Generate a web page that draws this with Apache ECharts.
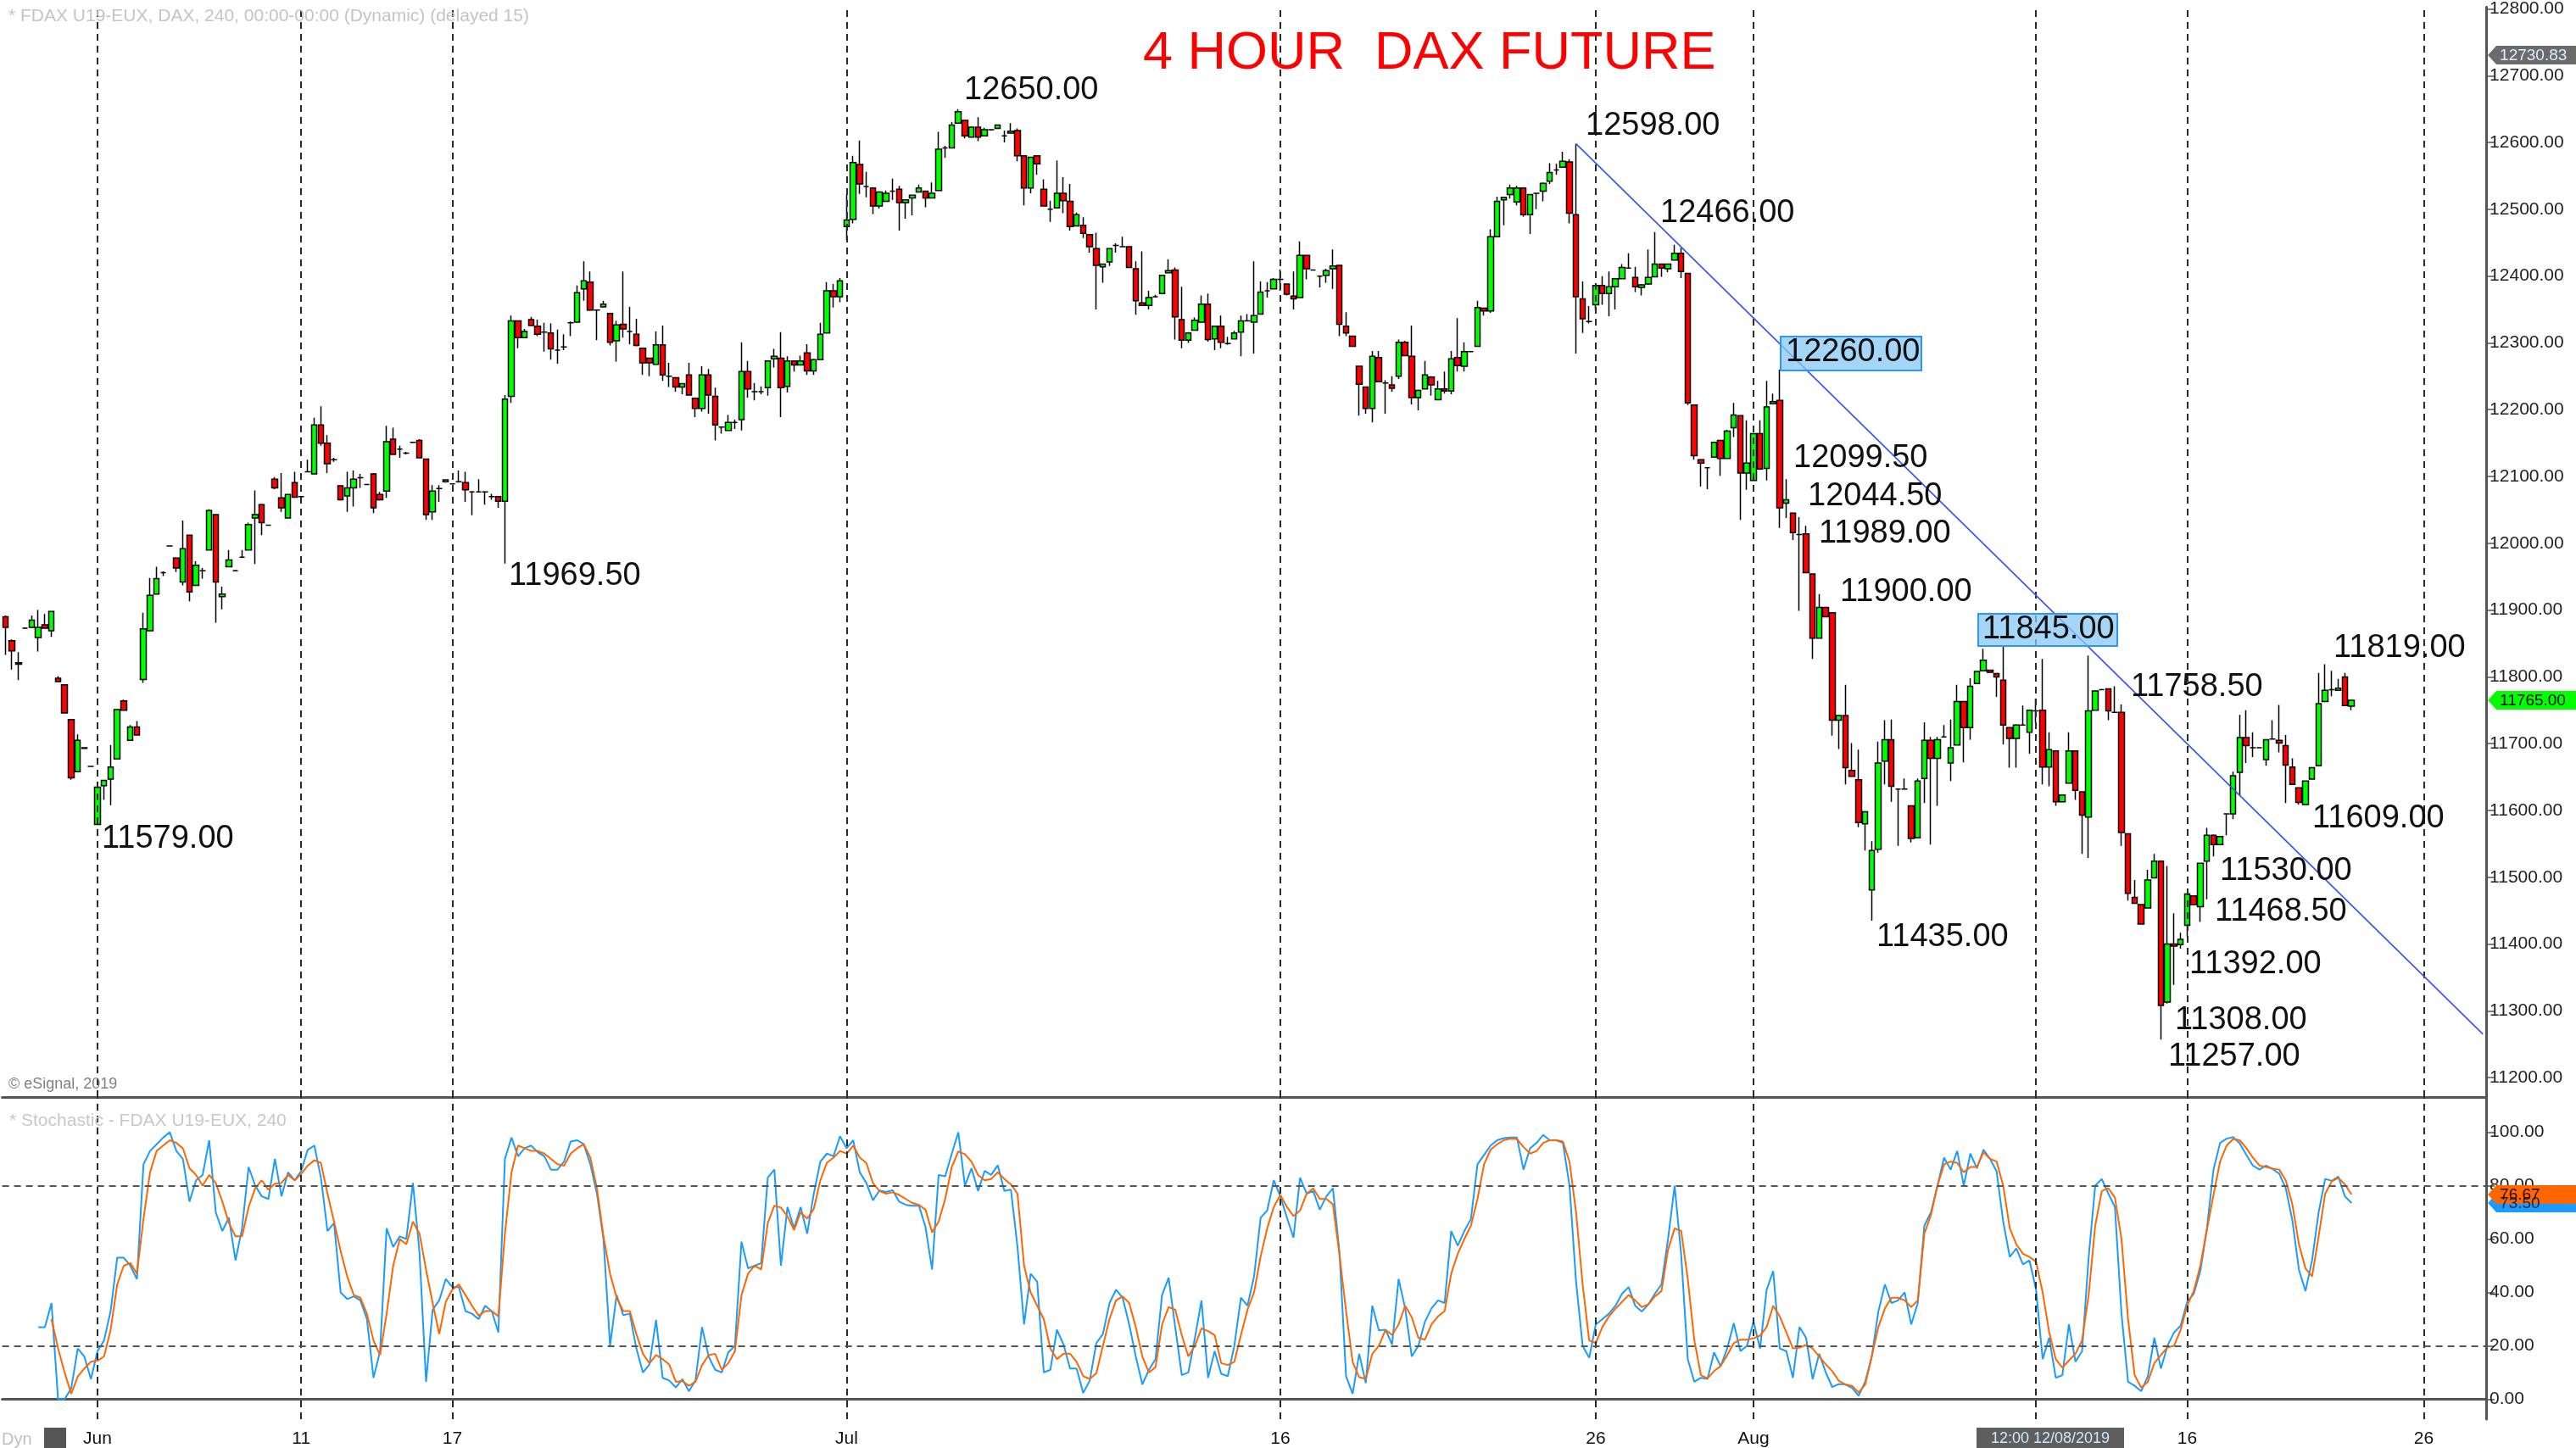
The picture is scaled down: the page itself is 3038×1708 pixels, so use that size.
<!DOCTYPE html>
<html><head><meta charset="utf-8">
<script src="https://cdn.jsdelivr.net/npm/echarts@6/dist/echarts.min.js"></script>
<style>html,body{margin:0;padding:0;background:#fff;}#c{width:3038px;height:1708px;}</style>
</head><body><div id="c"></div>
<script>
// ---------------- DATA ----------------
// 4-hour candles, [open, close, low, high]
const candles = [
[11890,11874,11833,11892],[11854,11839,11811,11856],[11821,11819,11795,11837],[11873,11873,11872,11874],[11874,11885,11873,11892],
[11859,11874,11838,11900],[11878,11873,11872,11894],[11869,11898,11860,11899],[11798,11793,11792,11801],[11788,11746,11745,11789],
[11736,11649,11646,11737],[11658,11705,11657,11714],[11694,11693,11692,11695],[11666,11666,11665,11667],[11579,11635,11579,11636],
[11637,11645,11616,11646],[11647,11665,11608,11698],[11677,11751,11676,11752],[11764,11750,11749,11766],[11705,11725,11704,11728],
[11725,11713,11712,11734],[11796,11872,11791,11896],[11869,11922,11868,11948],[11924,11947,11923,11965],[11956,11956,11951,11958],
[11996,11996,11995,11997],[11978,11963,11957,11979],[11942,11992,11937,12034],[12012,11927,11913,12013],[11937,11967,11936,11973],
[11959,11959,11947,11963],[11990,12049,11989,12051],[12043,11942,11881,12044],[11920,11924,11901,11935],[11965,11975,11964,11990],
[11959,11959,11958,11960],[11979,11979,11978,11990],[11990,12028,11989,12031],[12038,12043,11969,12079],[12058,12031,12012,12059],
[12027,12027,12026,12028],[12096,12083,12081,12099],[12068,12053,12047,12105],[12038,12073,12037,12074],[12091,12069,12068,12107],
[12070,12070,12069,12071],[12107,12107,12106,12125],[12104,12177,12103,12188],[12177,12150,12146,12205],[12150,12119,12105,12162],
[12125,12125,12122,12128],[12086,12065,12064,12087],[12071,12083,12047,12107],[12083,12096,12055,12109],[12098,12098,12083,12104],
[12088,12088,12087,12089],[12104,12053,12045,12105],[12073,12065,12064,12077],[12078,12152,12068,12176],[12156,12133,12132,12173],
[12141,12141,12128,12146],[12135,12135,12133,12137],[12151,12151,12150,12152],[12154,12128,12127,12156],[12126,12043,12035,12127],
[12047,12078,12035,12087],[12082,12082,12062,12087],[12092,12095,12091,12096],[12089,12089,12088,12090],[12092,12092,12091,12109],
[12091,12080,12062,12107],[12077,12077,12042,12078],[12077,12077,12076,12096],[12077,12077,12058,12078],[12070,12070,12065,12074],
[12070,12063,12053,12071],[12063,12216,11969.5,12222],[12220,12333,12210,12341],[12333,12308,12292,12334],[12308,12317,12307,12321],
[12335,12326,12325,12339],[12325,12313,12310,12335],[12316,12316,12287,12330],[12315,12291,12275,12329],[12289,12289,12269,12320],
[12294,12294,12289,12313],[12330,12330,12310,12332],[12331,12375,12330,12386],[12381,12393,12363,12422],[12391,12349,12348,12407],
[12349,12349,12304,12350],[12354,12358,12353,12363],[12344,12301,12296,12345],[12303,12327,12272,12333],[12328,12321,12308,12407],
[12317,12317,12298,12354],[12313,12296,12295,12336],[12292,12270,12252,12293],[12277,12270,12250,12278],[12268,12297,12267,12317],
[12297,12252,12243,12326],[12250,12250,12234,12270],[12248,12234,12227,12249],[12234,12239,12223,12240],[12252,12222,12221,12270],
[12217,12202,12189,12218],[12202,12252,12197,12265],[12252,12222,12194,12261],[12220,12177,12154,12233],[12174,12174,12164,12175],
[12169,12181,12168,12192],[12181,12181,12171,12185],[12185,12257,12169,12301],[12257,12231,12218,12273],[12227,12227,12214,12240],
[12227,12227,12223,12235],[12233,12273,12221,12274],[12276,12280,12263,12291],[12277,12233,12189,12316],[12235,12273,12226,12280],
[12273,12267,12257,12274],[12267,12273,12266,12281],[12285,12258,12252,12298],[12258,12275,12252,12276],[12275,12313,12274,12330],
[12315,12378,12314,12391],[12378,12369,12353,12388],[12369,12393,12361,12397],[12474,12484,12454,12523],[12485,12570,12479,12580],
[12567,12538,12523,12603],[12534,12534,12518,12556],[12532,12505,12493,12533],[12505,12526,12501,12527],[12512,12524,12511,12528],
[12527,12527,12514,12546],[12530,12510,12468,12535],[12510,12514,12486,12515],[12517,12521,12491,12522],[12526,12532,12525,12537],
[12527,12517,12503,12528],[12517,12524,12516,12540],[12528,12590,12527,12616],[12592,12592,12577,12595],[12592,12626,12591,12631],
[12629,12646,12628,12650],[12633,12610,12606,12634],[12608,12623,12607,12624],[12623,12608,12602,12638],[12610,12619,12609,12622],
[12619,12619,12618,12620],[12621,12626,12620,12627],[12610,12610,12600,12618],[12614,12617,12613,12629],[12618,12580,12572,12621],
[12580,12532,12506,12581],[12532,12578,12524,12579],[12580,12568,12552,12581],[12530,12505,12504,12545],[12500,12500,12481,12513],
[12502,12524,12501,12573],[12524,12513,12494,12548],[12512,12474,12468,12538],[12475,12492,12474,12495],[12476,12464,12457,12488],
[12462,12444,12435,12463],[12441,12416,12350,12465],[12414,12418,12390,12419],[12421,12441,12415,12442],[12446,12446,12435,12449],
[12444,12444,12443,12459],[12444,12413,12412,12445],[12411,12363,12342,12422],[12360,12356,12355,12437],[12356,12368,12350,12378],
[12369,12369,12368,12372],[12374,12401,12373,12402],[12405,12408,12404,12425],[12409,12339,12305,12413],[12335,12304,12292,12384],
[12304,12315,12300,12316],[12319,12334,12318,12338],[12331,12358,12330,12371],[12358,12305,12302,12374],[12306,12325,12289,12326],
[12325,12301,12292,12341],[12299,12299,12297,12309],[12306,12315,12305,12318],[12316,12333,12280,12341],[12333,12333,12332,12343],
[12331,12341,12284,12422],[12343,12376,12342,12392],[12378,12378,12368,12391],[12381,12395,12380,12397],[12395,12395,12378,12410],
[12388,12373,12371,12389],[12370,12366,12350,12407],[12368,12431,12367,12452],[12431,12411,12395,12432],[12409,12409,12408,12410],
[12400,12400,12383,12401],[12401,12408,12390,12411],[12411,12415,12381,12440],[12416,12328,12310,12417],[12325,12315,12310,12346],
[12310,12295,12294,12311],[12265,12238,12191,12266],[12234,12202,12194,12235],[12202,12280,12181,12288],[12278,12242,12241,12288],
[12240,12240,12194,12244],[12237,12232,12227,12250],[12250,12301,12246,12305],[12301,12281,12280,12303],[12280,12218,12208,12326],
[12218,12229,12199,12230],[12231,12252,12230,12273],[12249,12237,12221,12250],[12215,12231,12214,12243],[12231,12228,12224,12257],
[12228,12276,12223,12288],[12278,12266,12257,12337],[12265,12287,12257,12301],[12287,12287,12286,12288],[12295,12353,12294,12363],
[12352,12348,12341,12353],[12348,12459,12345,12470],[12459,12512,12458,12519],[12514,12518,12476,12519],[12522,12532,12516,12537],
[12511,12532,12506,12535],[12532,12492,12489,12533],[12492,12522,12463,12523],[12524,12524,12500,12525],[12527,12539,12512,12540],
[12542,12555,12538,12569],[12559,12559,12552,12568],[12563,12572,12562,12586],[12571,12494,12479,12575],[12492,12369,12284,12598],
[12366,12336,12315,12392],[12332,12332,12329,12355],[12357,12386,12349,12387],[12386,12374,12357,12400],[12374,12384,12340,12407],
[12384,12396,12350,12397],[12396,12413,12395,12418],[12412,12412,12411,12434],[12398,12384,12376,12414],[12383,12387,12371,12388],
[12388,12398,12387,12440],[12399,12418,12398,12466],[12418,12412,12399,12419],[12411,12418,12406,12419],[12424,12434,12423,12447],
[12434,12407,12397,12442],[12404,12210,12207,12405],[12207,12131,12125,12208],[12125,12120,12085,12126],[12113,12113,12081,12114],
[12129,12151,12128,12152],[12154,12127,12101,12155],[12127,12168,12126,12170],[12173,12192,12159,12210],[12191,12105,12035,12192],
[12105,12120,12080,12184],[12094,12164,12093,12165],[12164,12111,12110,12184],[12112,12204,12094,12243],[12209,12212,12208,12224],
[12214,12053,12023,12260],[12060,12065,12038,12096],[12045,12016,12005,12046],[12013,12013,11899,12039],[12014,11956,11955,12026],
[11954,11858,11827,11955],[11858,11904,11857,11924],[11904,11890,11889,11905],[11896,11735,11712,11897],[11735,11742,11692,11743],
[11742,11664,11639,11788],[11660,11651,11650,11701],[11646,11582,11575,11691],[11580,11598,11540,11599],[11481,11540,11435,11554],
[11542,11671,11537,11703],[11674,11706,11639,11735],[11706,11636,11613,11736],[11632,11632,11547,11633],[11632,11632,11631,11648],
[11607,11558,11552,11608],[11559,11644,11558,11648],[11648,11705,11611,11732],[11705,11678,11549,11710],[11678,11706,11607,11710],
[11710,11710,11709,11728],[11671,11694,11644,11736],[11698,11763,11697,11788],[11763,11724,11672,11764],[11724,11786,11706,11798],
[11790,11808,11789,11809],[11809,11825,11808,11842],[11810,11807,11806,11811],[11805,11800,11770,11806],[11795,11728,11699,11845],
[11724,11708,11664,11725],[11708,11728,11664,11729],[11728,11728,11727,11757],[11717,11750,11685,11751],[11749,11749,11731,11767],
[11750,11665,11639,11827],[11665,11691,11636,11717],[11689,11613,11607,11690],[11613,11623,11612,11624],[11641,11689,11640,11717],
[11689,11630,11616,11690],[11628,11593,11535,11629],[11590,11749,11529,11832],[11750,11779,11749,11780],[11781,11781,11780,11782],
[11782,11749,11735,11783],[11747,11747,11746,11786],[11747,11567,11547,11758.5],[11565,11476,11465,11566],[11470,11461,11460,11496],
[11459,11430,11429,11460],[11454,11496,11453,11511],[11499,11524,11498,11535],[11524,11308,11257,11525],[11313,11400,11311,11517],
[11400,11397,11339,11446],[11399,11407,11393,11417],[11428,11475,11411,11476],[11472,11459,11458,11473],[11456,11521,11433,11522],
[11524,11563,11467,11574],[11563,11549,11531,11564],[11549,11561,11548,11562],[11595,11595,11563,11596],[11595,11652,11587,11658],
[11657,11709,11622,11743],[11709,11697,11671,11750],[11694,11694,11680,11717],[11694,11694,11693,11695],[11676,11706,11667,11707],
[11707,11707,11706,11735],[11705,11701,11687,11758],[11697,11668,11611,11713],[11665,11639,11638,11678],[11634,11612,11609,11635],
[11609,11644,11608,11645],[11647,11664,11646,11665],[11667,11760,11666,11806],[11763,11780,11762,11819],[11781,11781,11771,11809],
[11780,11783,11779,11797],[11800,11757,11756,11806],[11756,11765,11750,11766]
];

// Stochastic %K (blue) and %D (orange), one value per candle
const stochK = [null,null,null,null,null,
27,27,36,0,0, 4,19,16,7.5,18, 22,33,53,53,50, 45,88,93,95.5,98, 100,93,90,74,82, 84,97,70,63,68, 52,64,87,80,76,
75,90,76,85,82, 85.5,93.5,95,83,63, 66,40,37.5,38.5,37, 30,8,18,64,57, 61,60,81,55,6.5, 33.5,37,45,42,42, 33,32,30,35,33,
25,90,98,91,94, 95,92.5,91,86,86, 89,96.5,97,95.5,88, 77,60,20,39,31.5, 32,19,10,13,29.7, 8,7,4.4,7.5,3, 7,27,16,11,10,
17.6,20,59,49,50, 51,83,86,50,72, 64,72,62,77,89, 92,91,98.5,94,
97,85,81,74.5,78.2, 77.6,78.3,74,72.8,72.5, 72.5,64.5,48.6,84,83.5, 92,100,80,86.5,78, 85.5,84,87.6,78,78.5,
57,28,47,44,10, 11,26,20.5,11.5,11.5, 2.3,7,21,24.4,36, 41,38,28,16,5.5, 11,15,39,45.5,27, 9,10,23,37,8,
18,9.5,8.6,20,38, 35,46,68,70.7,82, 76,68,60.5,83,77, 78,71,76,79,55, 8.6,2,17,6,35, 25.8,26,20.5,45,34,
16,20,29,34,37, 36,63,57.5,63,67.5, 88,91.5,95,97,97.8, 98,98,86,94,96, 99,97,97,96,80, 44,20,15.5,28,30,
32,35,39.5,42,35, 32.8,35.5,39.5,43,60, 80,54,15,6.5,
8,7.6,17.5,12.3,19, 28.5,18,20,29,19, 41,48,19,18,8, 27,23,7.5,17,10, 4.5,5.7,5.5,4.2,1.3, 6.5,16,32.8,43,36,
37,40,28,36,65, 70,80,90.5,86,93, 80,92,86.5,93.5,90, 85.3,66.5,53.3,56.5,50.5, 52,41,15,23,8, 9,28,14,18,53,
80,82.5,77,72,32, 6.5,5,3,8.5,23, 11.5,20,25,27.5,36.5, 39.5,48,64,86,96, 97.6,98.2,95.8,91.5,87.5,
86,87.5,86.2,84.5,79, 67,48.5,40.5,52,70, 82.5,81.8,83.4,76,73.5
];
const stochD = [null,null,null,null,null,null,null,
30,19,10,2,8.5, 11.5,14,14.4,16,26, 43,50,51,47,67.6, 85,93,95,97,96, 94,86.5,84,80,84, 81,74,66,61,61,
72,79,82,78.5,80.7, 81,84,82,84.4,87.5, 89.5,88.5,77,66.5,55.5, 46,39,38,32,22, 16.5,32,50,60,58, 66.5,62,48.5,36,24.4,
36.5,41,43,39,35, 31.3,33,33,31,62, 85,95,94,93,93, 92,90,88,87.5,92, 94,95.5,90.5,79,61, 47,38,33,33,24.4,
17,13.4,16.5,15,13, 6.5,6.8,5,6.5,12.8, 16.5,17,11,13.5,18, 39,47,50,48.6,66, 72.5,71.8,68.5,63.4,70,
67.6,71.3,82,88.6,90.5, 93,92,
95,90.5,88.5,81,78, 77,77.5,76.5,75,73.5, 72.8,71,62.5,66.5,75, 87,92.8,91.8,89,84, 82,82.5,85,82.5,80.5,
77,50,40,35,30, 19,15,17,17,14, 8.6,7.6,9.7,20,30, 37,38.5,36,27,16, 10,12,28,34.5,33.5, 24,16,20,26.5,25.5,
24,13.5,12.8,14,24, 33.5,40,53.5,64,72, 76.5,72,68.6,70.7,77, 79,75,75,73,54, 33,14,8.2,7.6,17, 20,26,24,28,35,
30.7,23,22.3,28,31, 33,47,54.5,60,65, 75,88,93.5,95.5,97, 97.6,97.4,94.5,92,93, 96,97,97,96.5,89, 70,43,22,21,27,
31,33.9,36.5,39,37, 34.5,35.5,38.5,40.5,56, 64,63,45,22,
9,7.8,10.5,12.4,16.5, 21,22.3,22.3,22.8,23.8, 27,35,31,25,19, 19.3,20.3,19,16,13, 10.5,6.8,5.5,5,2.5, 5.5,16,27,34,38,
38,37,34.5,37,62, 69,80,88,89,88.5, 85,87,87,92.5,90, 89,80,64,58,54.5, 53.3,51.5,40,25,15, 11.8,14.5,17,22,39,
65,78,79,75.5,60, 30,9,4.3,6.5,13.5, 16.5,19.4,20,26,35, 40.5,50,63.5,76.5,89, 95,97.5,97,94,90.5,
87.5,87,86.4,86,82, 73,58,49,46,61, 77,81.6,82.9,80.5,76.67
];

// time axis: bar slots, day-start bars and their labels
const SLOTS = 378;
const categories = Array.from({length: SLOTS}, (_, i) => String(i));
const dayStartIdx = [14, 45, 68, 128, 194, 242, 266, 332, 368];
const dayStartLabels = ['Jun', '11', '17', 'Jul', '16', '26', 'Aug', '16', '26'];
const cursorIdx = 309;
const cursorText = '12:00 12/08/2019';

const priceTicks = [11200,11300,11400,11500,11600,11700,11800,11900,12000,12100,12200,12300,12400,12500,12600,12700,12800];
const stochTicks = [0, 20, 40, 60, 80, 100];
const stochLevels = [80, 20];

const trendStart = [239, 12598];
const trendEnd = [377, 11265];
const refPrice = 12730.83;
const lastPrice = 11765.00;
const lastK = 73.50;
const lastD = 76.67;

const annoTexts = ['12650.00','12598.00','12466.00','12260.00','12099.50','12044.50','11989.00','11900.00','11845.00',
  '11758.50','11819.00','11609.00','11530.00','11468.50','11392.00','11308.00','11257.00','11435.00','11969.50','11579.00'];

// ---------------- LAYOUT ----------------
const W = 3038, H = 1708;
const GRID_L = 2.6, GRID_W = 2929.5;
const P_TOP = 0, P_H = 1294;      // price pane
const S_TOP = 1294, S_H = 382;    // stochastic pane
const AXIS_X = GRID_L + GRID_W;
const annoPos = [[1137,107],[1870,149],[1958,252],[2106,416],[2115,541],[2132,586],[2145,630],[2170,699],[2338,743],
  [2513,811],[2752,765],[2727,966],[2618,1028],[2612,1076],[2582,1138],[2565,1204],[2557,1247],[2213,1106],[600,680],[120,990]];
const boxRects = [[2100,397,166,40],[2333,724,164,38]];
const FONT = '"Liberation Sans", Arial, sans-serif';

const chart = echarts.init(document.getElementById('c'), null, {width: W, height: H, renderer: 'canvas'});

const dashStyle = {type: [8, 6], color: '#2a2a2a', width: 2};
const vLines = dayStartIdx.concat([cursorIdx]).map(i => ({xAxis: categories[i], lineStyle: dashStyle}));

const graphics = [];
graphics.push({type: 'text', x: 10, y: 19, z: 100, style: {text: '* FDAX U19-EUX, DAX, 240, 00:00-00:00 (Dynamic) (delayed 15)',
  fill: '#c4c4c4', font: '21px ' + FONT, verticalAlign: 'middle', textVerticalAlign: 'middle'}});
graphics.push({type: 'text', x: 1348, y: 64, z: 100, style: {text: '4 HOUR  DAX FUTURE', fill: '#ff0000',
  font: '63px ' + FONT, verticalAlign: 'middle', textVerticalAlign: 'middle'}});
graphics.push({type: 'text', x: 10, y: 1279, z: 100, style: {text: '\u00a9 eSignal, 2019', fill: '#808080',
  font: '18px ' + FONT, verticalAlign: 'middle', textVerticalAlign: 'middle'}});
graphics.push({type: 'text', x: 11, y: 1322, z: 100, style: {text: '* Stochastic - FDAX U19-EUX, 240', fill: '#c8c8c8',
  font: '21px ' + FONT, verticalAlign: 'middle', textVerticalAlign: 'middle'}});
boxRects.forEach(r => graphics.push({type: 'rect', z: 90, shape: {x: r[0], y: r[1], width: r[2], height: r[3]},
  style: {fill: 'rgba(135,200,245,0.75)', stroke: '#2f97f0', lineWidth: 2}}));
annoTexts.forEach((t, k) => graphics.push({type: 'text', x: annoPos[k][0], y: annoPos[k][1], z: 100,
  style: {text: t, fill: '#111', font: '38px ' + FONT, verticalAlign: 'middle', textVerticalAlign: 'middle'}}));
graphics.push({type: 'rect', z: 90, shape: {x: 2331, y: 1684, width: 174, height: 24}, style: {fill: '#5e5e5e'}});
graphics.push({type: 'text', x: 2418, y: 1697, z: 100, style: {text: cursorText, fill: '#cfe6ff', font: '18px ' + FONT,
  align: 'center', textAlign: 'center', verticalAlign: 'middle', textVerticalAlign: 'middle'}});
graphics.push({type: 'text', x: 2, y: 1698, z: 100, style: {text: 'Dyn', fill: '#c0c0c0', font: '20px ' + FONT,
  verticalAlign: 'middle', textVerticalAlign: 'middle'}});
graphics.push({type: 'rect', z: 90, shape: {x: 52, y: 1684, width: 26, height: 24}, style: {fill: '#555'}});

const option = {
  animation: false,
  backgroundColor: '#ffffff',
  textStyle: {fontFamily: FONT},
  grid: [
    {left: GRID_L, top: P_TOP, width: GRID_W, height: P_H, containLabel: false},
    {left: GRID_L, top: S_TOP, width: GRID_W, height: S_H, containLabel: false}
  ],
  xAxis: [
    {type: 'category', gridIndex: 0, data: categories, boundaryGap: true,
     axisLine: {show: true, lineStyle: {color: '#555', width: 3}}, axisTick: {show: false},
     axisLabel: {show: false}, splitLine: {show: false}},
    {type: 'category', gridIndex: 1, data: categories, boundaryGap: true,
     axisLine: {show: true, lineStyle: {color: '#555', width: 3}},
     axisTick: {show: true, alignWithLabel: true, length: 8, lineStyle: {color: '#555', width: 1.5},
       interval: (i) => dayStartIdx.includes(i)},
     axisLabel: {show: true, interval: (i) => dayStartIdx.includes(i), margin: 13, fontSize: 21, color: '#111',
       fontFamily: FONT, formatter: (v) => { const k = dayStartIdx.indexOf(Number(v)); return k >= 0 ? dayStartLabels[k] : ''; }},
     splitLine: {show: false}}
  ],
  yAxis: [
    {type: 'value', gridIndex: 0, position: 'right', min: 11171, max: 12803, scale: true,
     axisLine: {show: true, lineStyle: {color: '#555', width: 3}},
     axisTick: {show: true, length: 10, customValues: priceTicks, lineStyle: {color: '#555', width: 1.5}},
     axisLabel: {show: true, customValues: priceTicks, margin: 4, fontSize: 21, color: '#222', fontFamily: FONT,
       formatter: v => Number(v).toFixed(2)},
     splitLine: {show: false}},
    {type: 'value', gridIndex: 1, position: 'right', min: -7.5, max: 113.2,
     axisLine: {show: true, lineStyle: {color: '#555', width: 3}},
     axisTick: {show: true, length: 10, customValues: stochTicks, lineStyle: {color: '#555', width: 1.5}},
     axisLabel: {show: true, customValues: stochTicks, margin: 4, fontSize: 21, color: '#222', fontFamily: FONT,
       formatter: v => Number(v).toFixed(2)},
     splitLine: {show: false}}
  ],
  series: [
    {type: 'candlestick', name: 'FDAX', xAxisIndex: 0, yAxisIndex: 0, data: candles, barWidth: 7,
     itemStyle: {color: '#00ff00', color0: '#ff0000', borderColor: '#000', borderColor0: '#000',
       borderColorDoji: '#000', borderWidth: 1.5},
     markLine: {silent: true, symbol: ['none', 'none'], label: {show: false}, animation: false,
       data: vLines.concat([
         [{coord: [categories[trendStart[0]], trendStart[1]]}, {coord: [categories[trendEnd[0]], trendEnd[1]],
           lineStyle: {type: 'solid', color: '#3355ee', width: 1.6}}]
       ])}},
    {type: 'line', name: '%K', xAxisIndex: 1, yAxisIndex: 1, data: stochK, symbol: 'none', z: 3,
     lineStyle: {color: '#1a9bff', width: 2}, itemStyle: {color: '#1a9bff'},
     markLine: {silent: true, symbol: ['none', 'none'], label: {show: false}, animation: false,
       data: vLines.concat(stochLevels.map(v => ({yAxis: v, lineStyle: {type: [8, 6], color: '#555', width: 2}})))}},
    {type: 'line', name: '%D', xAxisIndex: 1, yAxisIndex: 1, data: stochD, symbol: 'none', z: 4,
     lineStyle: {color: '#ff6600', width: 2}, itemStyle: {color: '#ff6600'}}
  ],
  graphic: graphics
};
chart.setOption(option);

// value tags on the right axes, placed through the axes' own scales
function axisTag(id, yAxisIndex, value, bg, fg) {
  const y = chart.convertToPixel({yAxisIndex: yAxisIndex}, value);
  const x0 = AXIS_X + 2, h = 11;
  return [
    {id: id + '_bg', type: 'polygon', z: 110, shape: {points: [[x0, y], [x0 + 10, y - h], [W, y - h], [W, y + h], [x0 + 10, y + h]]},
     style: {fill: bg}},
    {id: id + '_tx', type: 'text', z: 111, x: x0 + 14, y: y + 1,
     style: {text: Number(value).toFixed(2), fill: fg, font: '19px ' + FONT, verticalAlign: 'middle', textVerticalAlign: 'middle'}}
  ];
}
const tags = [].concat(
  axisTag('ref', 0, refPrice, '#6b6b6b', '#d8ecff'),
  axisTag('last', 0, lastPrice, '#00ff00', '#000'),
  axisTag('k', 1, lastK, '#1a9bff', '#0a2a55'),
  axisTag('d', 1, lastD, '#ff6600', '#2a0a00')
);
chart.setOption({graphic: graphics.concat(tags)});
</script>
</body></html>
